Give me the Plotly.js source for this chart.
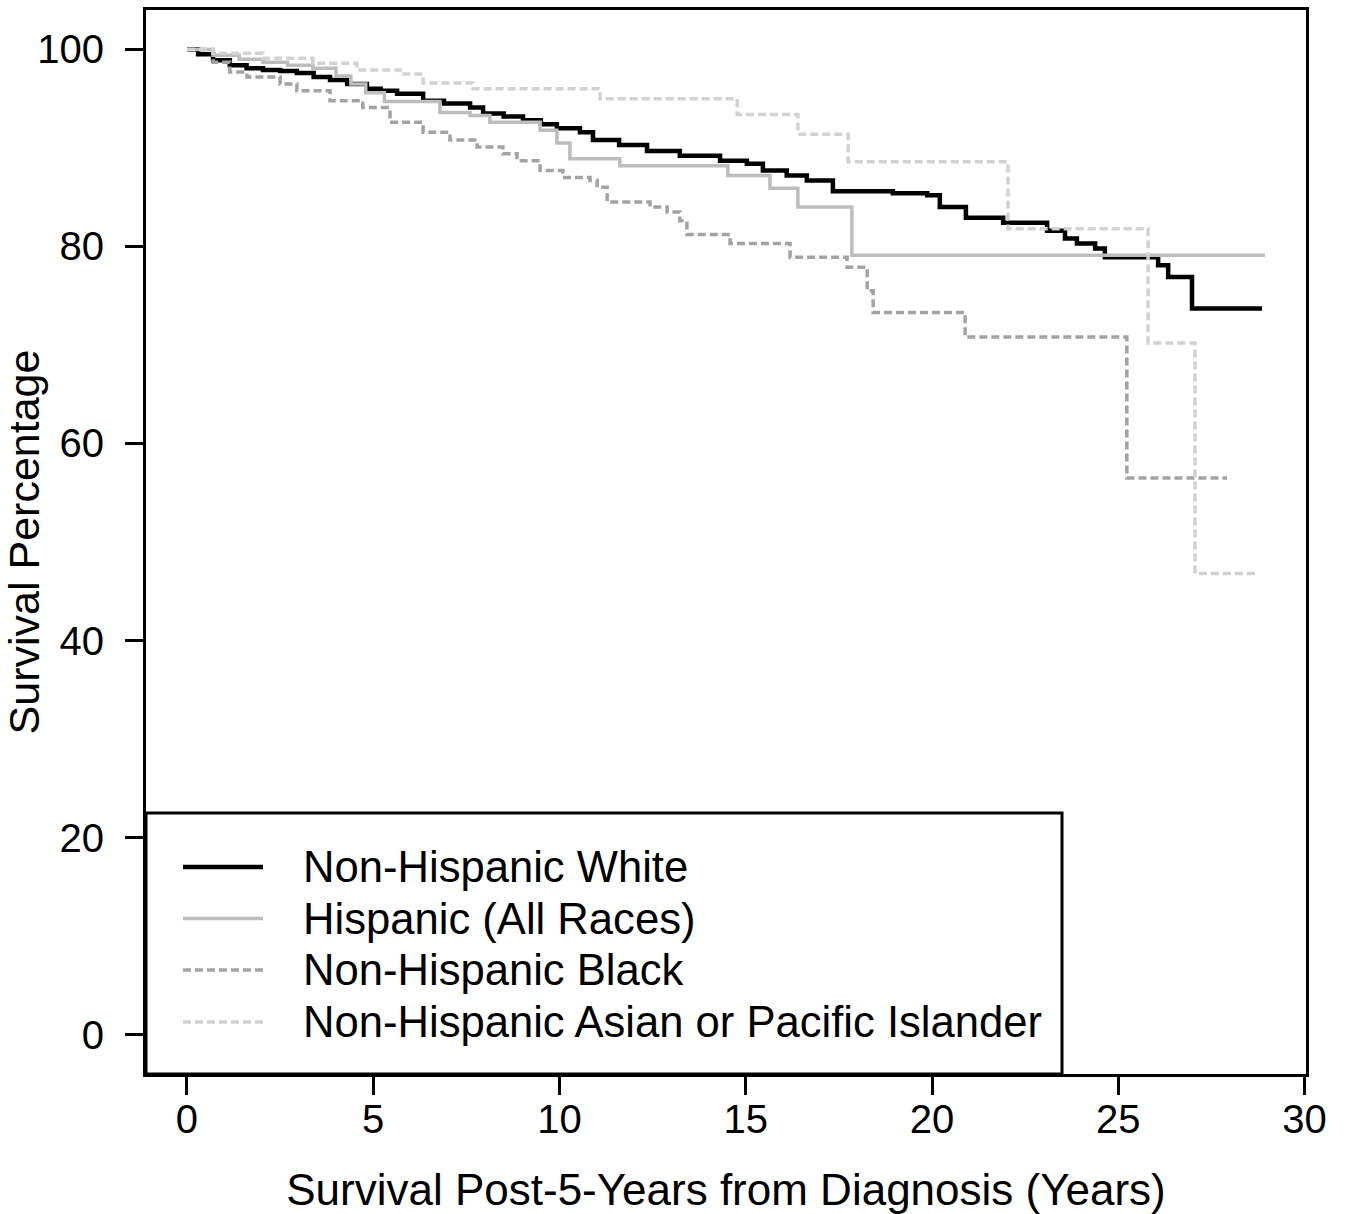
<!DOCTYPE html>
<html>
<head>
<meta charset="utf-8">
<script src="https://cdn.plot.ly/plotly-3.0.1.min.js"></script>
<style>
  html, body { margin: 0; padding: 0; background: #ffffff; }
  #chart { width: 1350px; height: 1214px; }
</style>
</head>
<body>
<div id="chart"></div>
<script>
// ---------------- data ----------------
const seriesNames = [
  "Non-Hispanic White",
  "Hispanic (All Races)",
  "Non-Hispanic Black",
  "Non-Hispanic Asian or Pacific Islander"
];

// Years since 5-year survival, and survival percentage (Kaplan-Meier steps)
const whiteYears = [0, 0.3, 0.7, 1.15, 1.6, 2.04, 2.5, 2.95, 3.4, 3.84, 4.3, 4.83, 5.2, 5.64, 6.34, 6.9, 7.6, 7.95, 8.5, 9.02, 9.5, 9.93, 10.55, 10.9, 11.6, 12.35, 13.23, 14.31, 15.03, 15.46, 16.1, 16.64, 17.34, 18.95, 19.87, 20.21, 20.91, 21.91, 23.09, 23.57, 23.89, 24.38, 24.64, 26.07, 26.34, 26.98, 28.86];
const whiteSurv  = [100, 99.5, 98.9, 98.4, 98.1, 97.9, 97.8, 97.6, 97.2, 96.9, 96.5, 96.0, 95.8, 95.5, 94.8, 94.5, 94.1, 93.5, 93.2, 92.8, 92.4, 92.0, 91.6, 90.8, 90.3, 89.7, 89.2, 88.7, 88.4, 87.7, 87.2, 86.7, 85.6, 85.4, 85.2, 84.0, 82.9, 82.4, 81.6, 80.8, 80.3, 79.8, 78.9, 78.1, 76.9, 73.7, 73.7];

const hispYears = [0, 0.7, 1.4, 2.04, 2.7, 3.38, 4.0, 4.4, 4.8, 5.3, 6.79, 7.6, 8.13, 9.48, 9.93, 10.28, 11.62, 14.52, 15.65, 16.4, 17.85, 28.94];
const hispSurv  = [100, 99.4, 99.0, 98.7, 98.4, 98.1, 97.3, 96.5, 95.6, 94.7, 93.6, 93.3, 92.6, 91.8, 90.5, 88.9, 88.2, 87.2, 85.9, 84.0, 79.1, 79.1];

const blackYears = [0, 0.7, 1.15, 1.61, 2.5, 2.95, 3.84, 4.72, 5.45, 6.34, 7.06, 7.79, 8.48, 8.86, 9.48, 10.09, 10.82, 11.01, 11.28, 12.43, 12.89, 13.23, 13.42, 14.58, 16.19, 17.72, 18.26, 18.42, 20.89, 25.23, 27.92];
const blackSurv  = [100, 98.7, 97.7, 97.2, 96.5, 95.8, 94.8, 94.1, 92.6, 91.6, 90.8, 90.1, 89.4, 88.7, 87.7, 87.0, 86.7, 86.0, 84.5, 84.0, 83.5, 82.6, 81.2, 80.3, 78.9, 77.9, 75.5, 73.3, 70.8, 56.5, 56.5];

const asianYears = [0, 0.7, 2.04, 3.38, 4.56, 5.72, 6.34, 7.68, 11.09, 14.77, 16.4, 17.75, 22.04, 25.8, 27.06, 28.67];
const asianSurv  = [100, 99.6, 99.1, 98.6, 97.9, 97.5, 96.6, 96.0, 95.0, 93.4, 91.4, 88.6, 81.8, 70.2, 46.8, 46.8];

const xTickVals = [0, 5, 10, 15, 20, 25, 30];
const yTickVals = [0, 20, 40, 60, 80, 100];
const xTitle = "Survival Post-5-Years from Diagnosis (Years)";
const yTitle = "Survival Percentage";

// ---------------- styles ----------------
const FONT = "Liberation Sans, Arial, Helvetica, sans-serif";
const styles = [
  { color: "#000000", width: 4.5, dash: "solid" },
  { color: "#bdbdbd", width: 3.5, dash: "solid" },
  { color: "#a3a3a3", width: 3.5, dash: "8px,4px" },
  { color: "#d2d2d2", width: 3.5, dash: "8px,4px" }
];
const xs = [whiteYears, hispYears, blackYears, asianYears];
const ys = [whiteSurv, hispSurv, blackSurv, asianSurv];

const traces = seriesNames.map((name, i) => ({
  type: "scatter",
  mode: "lines",
  name: name,
  x: xs[i],
  y: ys[i],
  line: { shape: "hv", color: styles[i].color, width: styles[i].width, dash: styles[i].dash },
  showlegend: false,
  hoverinfo: "x+y+name"
}));

// ---------------- hand-drawn legend box (R style) ----------------
const W = 1350, H = 1214;
const margin = { l: 146, r: 44, t: 10, b: 140 };
const plotW = W - margin.l - margin.r;
const plotH = H - margin.t - margin.b;
const px2x = p => (p - margin.l) / plotW;          // page x -> paper x
const px2y = p => (H - margin.b - p) / plotH;      // page y -> paper y

const shapes = [{
  type: "rect", xref: "paper", yref: "paper",
  x0: 0, x1: px2x(1062), y0: 0, y1: px2y(813),
  line: { color: "#000000", width: 3 }, fillcolor: "rgba(255,255,255,0)", layer: "above"
}];
const annotations = [];
const rowY = [867, 918.5, 970, 1022];
seriesNames.forEach((name, i) => {
  shapes.push({
    type: "line", xref: "paper", yref: "paper",
    x0: px2x(183), x1: px2x(263), y0: px2y(rowY[i]), y1: px2y(rowY[i]),
    line: { color: styles[i].color, width: styles[i].width, dash: styles[i].dash }
  });
  annotations.push({
    xref: "paper", yref: "paper", x: px2x(301), y: px2y(rowY[i]),
    xanchor: "left", yanchor: "middle", showarrow: false,
    text: name, font: { family: FONT, size: 43.6, color: "#000000" }
  });
});

const axisCommon = {
  showgrid: false, zeroline: false,
  showline: true, mirror: true, linecolor: "#000000", linewidth: 3,
  ticks: "outside", ticklen: 18, tickwidth: 3, tickcolor: "#000000",
  tickfont: { family: FONT, size: 40, color: "#000000" },
  fixedrange: true
};

const layout = {
  width: W, height: H,
  margin: margin,
  paper_bgcolor: "#ffffff", plot_bgcolor: "#ffffff",
  font: { family: FONT, color: "#000000" },
  showlegend: false,
  xaxis: Object.assign({}, axisCommon, {
    range: [-1.1, 30.04],
    tickmode: "array", tickvals: xTickVals, ticktext: xTickVals.map(String),
    ticklabelstandoff: -10,
    title: { text: xTitle, font: { family: FONT, size: 44, color: "#000000" }, standoff: 37 }
  }),
  yaxis: Object.assign({}, axisCommon, {
    range: [-4, 104],
    tickmode: "array", tickvals: yTickVals, ticktext: yTickVals.map(String),
    ticklabelstandoff: 13,
    title: { text: yTitle, font: { family: FONT, size: 43, color: "#000000" }, standoff: 13 }
  }),
  shapes: shapes,
  annotations: annotations
};

Plotly.newPlot("chart", traces, layout, { displayModeBar: false, staticPlot: false });
</script>
</body>
</html>
